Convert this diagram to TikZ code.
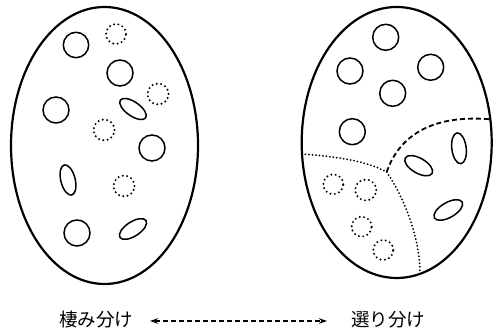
\documentclass[tikz,border=0pt]{standalone}
\usepackage{fontspec}
\newfontfamily\jpfont{Noto Sans CJK JP}
\usetikzlibrary{arrows.meta}
\tikzset{
  outer/.style={line width=2.2pt},
  cell/.style={line width=1.5pt},
  dotcell/.style={line width=2.2pt, line cap=round, dash pattern=on 0pt off 4.4pt},
  dotline/.style={line width=2pt, line cap=round, dash pattern=on 0pt off 3.5pt},
  dashline/.style={line width=1.8pt, dash pattern=on 5pt off 3pt},
  lbl/.style={font=\jpfont\fontsize{18.5}{20}\selectfont, inner sep=0pt},
}
\begin{document}
\begin{tikzpicture}[x=1pt,y=1pt]
\useasboundingbox (0,0) rectangle (498,336);

% left population
\draw[outer] (104.5,190.5) ellipse [x radius=93.5, y radius=138.5];
\draw[cell] (76,291) circle [radius=12.7];
\draw[cell] (120,263) circle [radius=13];
\draw[cell] (56,226) circle [radius=13];
\draw[cell] (152,188) circle [radius=13];
\draw[cell] (77,103) circle [radius=13];
\draw[cell] (133,227) ellipse [x radius=15.5, y radius=7, rotate=-35];
\draw[cell] (68,156) ellipse [x radius=7.2, y radius=15.5, rotate=14];
\draw[cell] (133,107) ellipse [x radius=15.5, y radius=7.2, rotate=33];
\draw[dotcell] (116,302) circle [radius=10];
\draw[dotcell] (158,242) circle [radius=10.5];
\draw[dotcell] (104,206) circle [radius=10.5];
\draw[dotcell] (124,150) circle [radius=10.5];

% right population
\draw[outer] (396.7,193.5) ellipse [x radius=95, y radius=135.5];
\draw[cell] (385.7,298.7) circle [radius=13];
\draw[cell] (350,265) circle [radius=13];
\draw[cell] (430.7,268.7) circle [radius=13];
\draw[cell] (392.7,242.7) circle [radius=13];
\draw[cell] (352.3,204.3) circle [radius=13];
\draw[cell] (459,187.7) ellipse [x radius=7.2, y radius=15.5, rotate=7];
\draw[cell] (418.7,170.3) ellipse [x radius=15.5, y radius=7.5, rotate=-30];
\draw[cell] (448.3,126) ellipse [x radius=16, y radius=7.5, rotate=30];
\draw[dotcell] (333.3,151.7) circle [radius=10];
\draw[dotcell] (365.7,146) circle [radius=10.5];
\draw[dotcell] (361.7,109.3) circle [radius=10];
\draw[dotcell] (383.3,86) circle [radius=10];

% borders between the groups
\coordinate (J) at (386.7,164);
\coordinate (W) at (302,182);
\coordinate (S) at (420,62.3);
\coordinate (E) at (490.3,216.7);
\draw[dotline] (W) .. controls (330,180) and (365,176) .. (J);
\draw[dotline] (J) .. controls (403,140) and (420,100) .. (S);
\draw[dashline] (J) .. controls (398,197) and (428,222) .. (E);

% labels
\node[lbl] (a) at (96,16) {棲み分け};
\node[lbl] (b) at (388,16) {選り分け};
\coordinate (pa) at (150,15);
\coordinate (pb) at (327,15);
\draw[line width=1.4pt, dash pattern=on 5pt off 3pt,
  {Stealth[length=8pt,width=5.5pt]}-{Stealth[length=8pt,width=5.5pt]}] (pa) -- (pb);
\end{tikzpicture}
\end{document}
